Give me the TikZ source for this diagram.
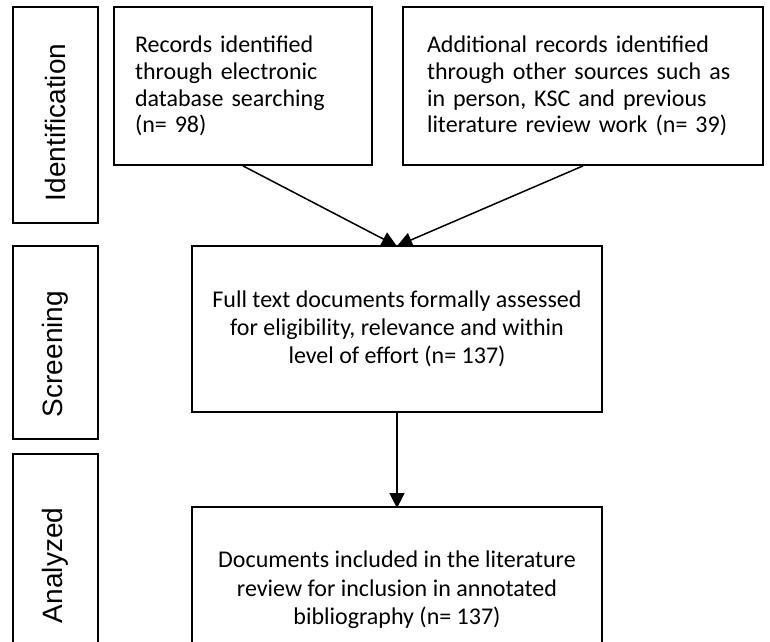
\documentclass[tikz,border=0pt]{standalone}
\usepackage{fontspec}
\setmainfont{Carlito}
\newfontfamily\phasefont{Liberation Sans}
\usetikzlibrary{arrows.meta}

\tikzset{
  phasebox/.style={draw, line width=1.8pt, rotate=90, minimum height=85pt,
    inner xsep=22pt, align=left, font=\phasefont\fontsize{28}{32}\selectfont},
  recbox/.style={draw, line width=1.8pt, minimum height=158pt, align=left,
    font=\fontsize{24}{26.7}\selectfont},
  stepbox/.style={draw, line width=1.8pt, minimum width=410pt, minimum height=166pt,
    align=center, font=\fontsize{24}{28.3}\selectfont},
  flow/.style={line width=1.5pt, ->, shorten >=-2pt}
}

\begin{document}
\begin{tikzpicture}[x=1pt,y=-1pt,>={Triangle[length=15pt,width=15pt]}]
  \useasboundingbox (0,0) rectangle (770,641);
  \clip (0,0) rectangle (770,641);
  % phases on the left
  \node[phasebox, text width=172pt] (ident) at (55.5,115) {Identification};
  \node[phasebox, text width=149pt] (screen) at (55.5,342.5) {Screening};
  \node[phasebox, text width=147pt] (analyzed) at (55.5,549.5) {Analyzed};
  % records
  \node[recbox, minimum width=258pt, text width=216pt, inner xsep=21pt]
    (records) at (243,86)
    {Records identified\\through electronic\\database searching\\(n= 98)};
  \node[recbox, minimum width=360pt, text width=312pt, inner xsep=24pt]
    (additional) at (583,86)
    {Additional records identified\\through other sources such as\\in person, KSC and previous\\literature review work (n= 39)};
  % screening and inclusion
  \node[stepbox] (fulltext) at (397,329)
    {Full text documents formally assessed\\for eligibility, relevance and within\\level of effort (n= 137)};
  \node[stepbox] (included) at (397,590)
    {Documents included in the literature\\review for inclusion in annotated\\bibliography (n= 137)};
  \draw[flow] (records.south) -- ([xshift=-2pt]fulltext.north);
  \draw[flow] (additional.south) -- ([xshift=2pt]fulltext.north);
  \draw[flow] (fulltext) -- (included);
\end{tikzpicture}
\end{document}
